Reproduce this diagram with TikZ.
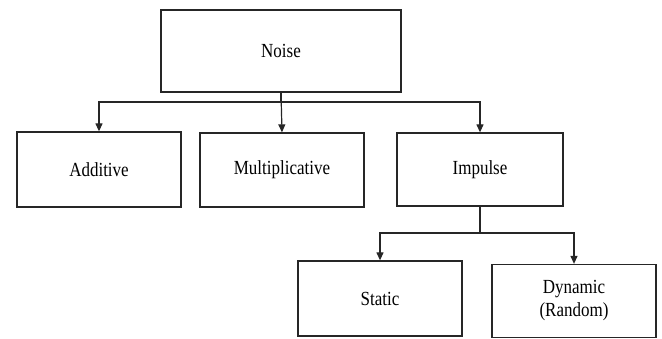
\documentclass[tikz,border=0pt]{standalone}
\usepackage{fontspec}
\setmainfont{Liberation Serif}[FakeStretch=0.85]
\usetikzlibrary{arrows.meta}
\begin{document}
\begin{tikzpicture}[x=1pt,y=-1pt,
  box/.style={draw=black!85,line width=1.3pt,inner sep=0pt,align=center,
    font=\fontsize{20}{23}\selectfont},
  arr/.style={draw=black!85,line width=1.2pt,-{Triangle[length=8pt,width=7pt]}}]
\useasboundingbox (0,0) rectangle (662,338);
\node[box,minimum width=240pt,minimum height=82pt] (noise) at (281,51) {Noise};
\node[box,minimum width=164pt,minimum height=75pt] (add) at (99,169.5) {Additive};
\node[box,minimum width=164pt,minimum height=74pt] (mult) at (282,170) {Multiplicative};
\node[box,minimum width=166pt,minimum height=73pt] (imp) at (480,169.5) {Impulse};
\node[box,minimum width=164pt,minimum height=75pt] (stat) at (380,298.5) {Static};
\node[box,minimum width=164pt,minimum height=73pt] (dyn) at (574,301) {Dynamic\\(Random)};
\coordinate (bar1) at (0,102);
\coordinate (bar2) at (0,233);
\draw[arr] (noise.south) -- (noise.south |- bar1) -| (add.north);
\draw[arr] (noise.south) -- (mult.north);
\draw[arr] (noise.south |- bar1) -| (imp.north);
\draw[arr] (imp.south) -- (imp.south |- bar2) -| (stat.north);
\draw[arr] (imp.south |- bar2) -| (dyn.north);
\end{tikzpicture}
\end{document}
